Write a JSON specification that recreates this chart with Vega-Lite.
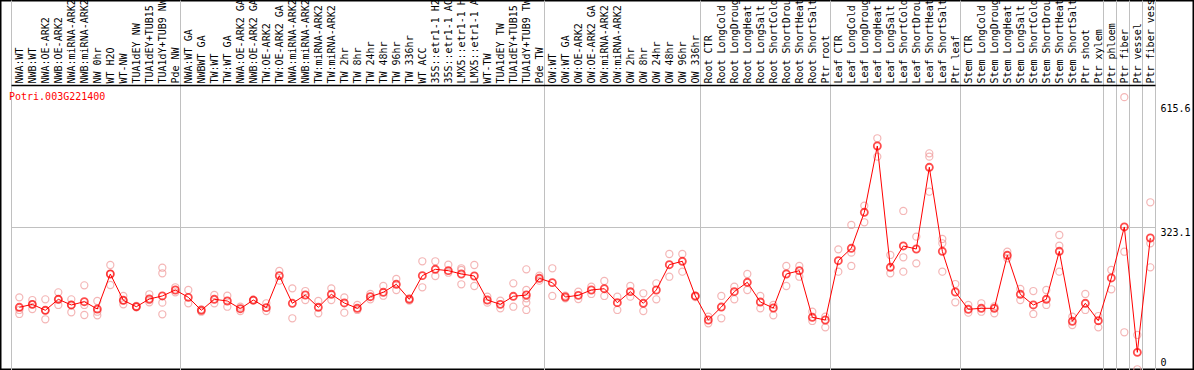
{
  "$schema": "https://vega.github.io/schema/vega-lite/v6.json",
  "width": 1194,
  "height": 370,
  "autosize": {"type": "none"},
  "padding": {"left": 0, "top": 0, "right": 0, "bottom": 0},
  "background": "white",
  "config": {
    "view": {"stroke": "black", "strokeWidth": 3},
    "font": "DejaVu Sans Mono"
  },
  "title": {
    "text": "Potri.003G221400",
    "orient": "none",
    "anchor": "start",
    "frame": "group",
    "dx": 9,
    "dy": 100,
    "baseline": "alphabetic",
    "color": "#ff0000",
    "font": "DejaVu Sans Mono",
    "fontSize": 10,
    "fontWeight": "normal"
  },
  "datasets": {
    "means": [
      {"i":0,"name":"NWA:WT","v":141.5},{"i":1,"name":"NWB:WT","v":148.2},{"i":2,"name":"NWA:OE-ARK2","v":134.7},{"i":3,"name":"NWB:OE-ARK2","v":159.5},
      {"i":4,"name":"NWA:miRNA-ARK2","v":146.7},{"i":5,"name":"NWB:miRNA-ARK2","v":154.1},{"i":6,"name":"NW 0hr","v":137.6},{"i":7,"name":"WT H2O","v":216.6},
      {"i":8,"name":"WT-NW","v":157.3},{"i":9,"name":"TUA1dEY NW","v":142.8},{"i":10,"name":"TUA1dEY+TUB15 NW","v":160.2},{"i":11,"name":"TUA1dY+TUB9 NW","v":167.0},
      {"i":12,"name":"Pde NW","v":180.5},{"i":13,"name":"NWA:WT GA","v":164.0},{"i":14,"name":"NWBWT GA","v":134.7},{"i":15,"name":"TW:WT","v":159.5},
      {"i":16,"name":"TW:WT GA","v":155.7},{"i":17,"name":"NWA:OE-ARK2 GA","v":138.3},{"i":18,"name":"NWB:OE-ARK2 GA","v":157.9},{"i":19,"name":"TW:OE-ARK2","v":140.6},
      {"i":20,"name":"TW:OE-ARK2 GA","v":212.8},{"i":21,"name":"NWA:miRNA-ARK2 GA","v":150.5},{"i":22,"name":"NWB:miRNA-ARK2 GA","v":169.2},{"i":23,"name":"TW:miRNA-ARK2","v":141.5},
      {"i":24,"name":"TW:miRNA-ARK2 GA","v":170.8},{"i":25,"name":"TW 2hr","v":151.2},{"i":26,"name":"TW 8hr","v":139.2},{"i":27,"name":"TW 24hr","v":165.4},
      {"i":28,"name":"TW 48hr","v":175.3},{"i":29,"name":"TW 96hr","v":193.4},{"i":30,"name":"TW 336hr","v":159.5},{"i":31,"name":"WT ACC","v":212.8},
      {"i":32,"name":"35S::etr1-1 H2O","v":227.2},{"i":33,"name":"35S::etr1-1 ACC","v":224.1},{"i":34,"name":"LMX5::etr1-1 H2O","v":216.6},{"i":35,"name":"LMX5::etr1-1 ACC","v":212.1},
      {"i":36,"name":"WT-TW","v":157.9},{"i":37,"name":"TUA1dEY TW","v":148.2},{"i":38,"name":"TUA1dEY+TUB15 TW","v":166.3},{"i":39,"name":"TUA1dY+TUB9 TW","v":169.2},
      {"i":40,"name":"Pde TW","v":206.9},{"i":41,"name":"OW:WT","v":197.0},{"i":42,"name":"OW:WT GA","v":164.7},{"i":43,"name":"OW:OE-ARK2","v":168.5},
      {"i":44,"name":"OW:OE-ARK2 GA","v":180.5},{"i":45,"name":"OW:miRNA-ARK2","v":183.4},{"i":46,"name":"OW:miRNA-ARK2 GA","v":151.9},{"i":47,"name":"OW 2hr","v":176.7},
      {"i":48,"name":"OW 8hr","v":150.5},{"i":49,"name":"OW 24hr","v":180.5},{"i":50,"name":"OW 48hr","v":237.6},{"i":51,"name":"OW 96hr","v":245.3},
      {"i":52,"name":"OW 336hr","v":167.0},{"i":53,"name":"Root CTR","v":112.8},{"i":54,"name":"Root LongCold","v":142.1},{"i":55,"name":"Root LongDrought","v":176.7},
      {"i":56,"name":"Root LongHeat","v":197.9},{"i":57,"name":"Root LongSalt","v":153.4},{"i":58,"name":"Root ShortCold","v":139.9},{"i":59,"name":"Root ShortDrought","v":216.6},
      {"i":60,"name":"Root ShortHeat","v":224.1},{"i":61,"name":"Root ShortSalt","v":118.9},{"i":62,"name":"Ptr root","v":112.8},{"i":63,"name":"Leaf CTR","v":246.6},
      {"i":64,"name":"Leaf LongCold","v":274.6},{"i":65,"name":"Leaf LongDrought","v":355.8},{"i":66,"name":"Leaf LongHeat","v":505.4},{"i":67,"name":"Leaf LongSalt","v":231.7},
      {"i":68,"name":"Leaf ShortCold","v":279.8},{"i":69,"name":"Leaf ShortDrought","v":273.0},{"i":70,"name":"Leaf ShortHeat","v":457.4},{"i":71,"name":"Leaf ShortSalt","v":267.8},
      {"i":72,"name":"Ptr leaf","v":176.0},{"i":73,"name":"Stem CTR","v":137.0},{"i":74,"name":"Stem LongCold","v":139.2},{"i":75,"name":"Stem LongDrought","v":139.2},
      {"i":76,"name":"Stem LongHeat","v":258.8},{"i":77,"name":"Stem LongSalt","v":170.8},{"i":78,"name":"Stem ShortCold","v":146.7},{"i":79,"name":"Stem ShortDrought","v":159.5},
      {"i":80,"name":"Stem ShortHeat","v":267.8},{"i":81,"name":"Stem ShortSalt","v":109.9},{"i":82,"name":"Ptr shoot","v":150.5},{"i":83,"name":"Ptr xylem","v":111.2},
      {"i":84,"name":"Ptr phloem","v":207.6},{"i":85,"name":"Ptr fiber","v":322.7},{"i":86,"name":"Ptr vessel","v":39.9},{"i":87,"name":"Ptr fiber vessel","v":297.8}
    ],
    "reps": [
      {"i":0,"v":164.0},{"i":0,"v":135.4},{"i":0,"v":126.4},
      {"i":1,"v":157.9},{"i":1,"v":137.6},{"i":1,"v":148.2},
      {"i":2,"v":159.5},{"i":2,"v":114.4},{"i":2,"v":134.7},
      {"i":3,"v":175.3},{"i":3,"v":146.7},{"i":3,"v":159.5},
      {"i":4,"v":159.5},{"i":4,"v":130.2},{"i":4,"v":146.7},
      {"i":5,"v":191.1},{"i":5,"v":124.1},{"i":5,"v":146.7},
      {"i":6,"v":155.7},{"i":6,"v":123.4},{"i":6,"v":131.5},
      {"i":7,"v":236.9},{"i":7,"v":191.8},{"i":7,"v":216.6},
      {"i":8,"v":167.0},{"i":8,"v":148.2},{"i":8,"v":157.3},
      {"i":9,"v":144.4},{"i":9,"v":141.5},{"i":9,"v":142.8},
      {"i":10,"v":170.8},{"i":10,"v":152.8},{"i":10,"v":157.9},
      {"i":11,"v":230.8},{"i":11,"v":218.2},{"i":11,"v":151.9},{"i":11,"v":125.7},
      {"i":12,"v":186.6},{"i":12,"v":175.3},
      {"i":13,"v":180.5},{"i":13,"v":150.5},
      {"i":14,"v":137.0},{"i":14,"v":131.5},
      {"i":15,"v":169.2},{"i":15,"v":150.5},
      {"i":16,"v":167.6},{"i":16,"v":142.8},
      {"i":17,"v":142.8},{"i":17,"v":133.1},
      {"i":18,"v":157.9},{"i":18,"v":156.4},
      {"i":19,"v":150.5},{"i":19,"v":133.1},
      {"i":20,"v":223.4},{"i":20,"v":201.5},
      {"i":21,"v":184.3},{"i":21,"v":116.7},
      {"i":22,"v":178.2},{"i":22,"v":157.9},
      {"i":23,"v":155.7},{"i":23,"v":127.9},
      {"i":24,"v":184.3},{"i":24,"v":157.9},
      {"i":25,"v":164.0},{"i":25,"v":129.3},
      {"i":26,"v":146.7},{"i":26,"v":135.4},
      {"i":27,"v":171.5},{"i":27,"v":159.5},
      {"i":28,"v":189.5},{"i":28,"v":167.6},
      {"i":29,"v":205.3},{"i":29,"v":180.5},
      {"i":30,"v":161.8},{"i":30,"v":156.4},
      {"i":31,"v":245.3},{"i":31,"v":186.6},
      {"i":32,"v":245.3},{"i":32,"v":212.1},
      {"i":33,"v":237.6},{"i":33,"v":219.5},
      {"i":34,"v":229.5},{"i":34,"v":193.4},{"i":34,"v":225.6},
      {"i":35,"v":236.9},{"i":35,"v":189.5},
      {"i":36,"v":165.4},{"i":36,"v":151.9},
      {"i":37,"v":156.4},{"i":37,"v":139.2},
      {"i":38,"v":195.6},{"i":38,"v":142.8},
      {"i":39,"v":227.2},{"i":39,"v":180.5},{"i":39,"v":161.8},{"i":39,"v":151.9},{"i":39,"v":135.4},
      {"i":40,"v":212.8},{"i":40,"v":201.5},
      {"i":41,"v":229.5},{"i":41,"v":167.0},
      {"i":42,"v":167.6},{"i":42,"v":161.8},
      {"i":43,"v":176.7},{"i":43,"v":160.2},
      {"i":44,"v":188.0},{"i":44,"v":171.5},
      {"i":45,"v":200.8},{"i":45,"v":167.0},
      {"i":46,"v":165.4},{"i":46,"v":135.4},
      {"i":47,"v":189.5},{"i":47,"v":165.4},
      {"i":48,"v":173.1},{"i":48,"v":133.1},
      {"i":49,"v":195.6},{"i":49,"v":159.5},
      {"i":50,"v":261.7},{"i":50,"v":210.5},
      {"i":51,"v":261.7},{"i":51,"v":221.8},
      {"i":52,"v":167.0},{"i":52,"v":164.7},
      {"i":53,"v":120.3},{"i":53,"v":105.4},
      {"i":54,"v":167.0},{"i":54,"v":116.7},
      {"i":55,"v":188.0},{"i":55,"v":159.5},
      {"i":56,"v":216.6},{"i":56,"v":180.5},
      {"i":57,"v":167.0},{"i":57,"v":139.2},
      {"i":58,"v":146.7},{"i":58,"v":123.4},
      {"i":59,"v":234.7},{"i":59,"v":189.5},
      {"i":60,"v":234.7},{"i":60,"v":210.5},
      {"i":61,"v":131.5},{"i":61,"v":110.6},
      {"i":62,"v":120.3},{"i":62,"v":96.3},
      {"i":63,"v":272.3},{"i":63,"v":221.8},
      {"i":64,"v":327.2},{"i":64,"v":264.7},{"i":64,"v":234.7},
      {"i":65,"v":370.7},{"i":65,"v":333.3},
      {"i":66,"v":522.8},{"i":66,"v":481.3},
      {"i":67,"v":259.5},{"i":67,"v":218.2},
      {"i":68,"v":358.8},{"i":68,"v":254.3},{"i":68,"v":221.8},
      {"i":69,"v":300.8},{"i":69,"v":240.7},
      {"i":70,"v":488.9},{"i":70,"v":481.3},{"i":70,"v":402.3},
      {"i":71,"v":295.6},{"i":71,"v":285.9},{"i":71,"v":221.8},
      {"i":72,"v":194.0},{"i":72,"v":152.8},
      {"i":73,"v":146.7},{"i":73,"v":129.3},
      {"i":74,"v":150.5},{"i":74,"v":131.5},
      {"i":75,"v":143.7},{"i":75,"v":127.9},
      {"i":76,"v":266.9},{"i":76,"v":252.0},
      {"i":77,"v":182.8},{"i":77,"v":157.9},
      {"i":78,"v":178.2},{"i":78,"v":126.4},
      {"i":79,"v":180.5},{"i":79,"v":146.7},
      {"i":80,"v":304.6},{"i":80,"v":280.5},{"i":80,"v":221.8},
      {"i":81,"v":120.3},{"i":81,"v":101.5},
      {"i":82,"v":171.5},{"i":82,"v":135.4},
      {"i":83,"v":121.8},{"i":83,"v":96.3},
      {"i":84,"v":225.6},{"i":84,"v":182.1},
      {"i":85,"v":615.6},{"i":85,"v":266.9},{"i":85,"v":85.1},
      {"i":86,"v":79.0},{"i":86,"v":1.6},
      {"i":87,"v":378.4},{"i":87,"v":285.9},{"i":87,"v":231.7}
    ]
  },
  "encoding": {
    "x": {
      "field": "name",
      "type": "nominal",
      "sort": {"field": "i", "op": "min"},
      "bandPosition": 0.64,
      "scale": {"range": [11, 1155], "paddingInner": 0, "paddingOuter": 0},
      "axis": {
        "orient": "top",
        "offset": -85,
        "title": null,
        "labelAngle": 270,
        "labelFont": "DejaVu Sans Mono",
        "labelFontSize": 10,
        "labelColor": "black",
        "labelPadding": 2,
        "labelOffset": 1.8,
        "labelOverlap": false,
        "labelLimit": 0,
        "labelBound": false,
        "labelFlush": false,
        "ticks": false,
        "domain": false,
        "grid": true,
        "tickBand": "extent",
        "gridColor": {
          "condition": {
            "test": "datum.extra || indexof(['Pde NW','Pde TW','OW 336hr','Ptr root','Ptr leaf','Ptr xylem','Ptr phloem','Ptr fiber','Ptr vessel','Ptr fiber vessel'], datum.value) >= 0",
            "value": "#c0c0c0"
          },
          "value": "rgba(0,0,0,0)"
        },
        "gridWidth": 1,
        "zindex": 0
      }
    }
  },
  "resolve": {"axis": {"y": "independent"}},
  "layer": [
    {
      "data": {"name": "reps"},
      "transform": [
        {"lookup": "i", "from": {"data": {"name": "means"}, "key": "i", "fields": ["name"]}}
      ],
      "mark": {"type": "point", "shape": "circle", "size": 50, "filled": false, "stroke": "#f09898", "strokeWidth": 1.2, "clip": false},
      "encoding": {
        "y": {
          "field": "v",
          "type": "quantitative",
          "scale": {"domain": [0, 834.8], "nice": false, "zero": true},
          "axis": {
            "orient": "left",
            "offset": 0,
            "title": null,
            "values": [323.1, 643],
            "labels": false,
            "ticks": false,
            "domain": false,
            "grid": true,
            "gridColor": {"condition": {"test": "datum.value == 643", "value": "black"}, "value": "#c0c0c0"},
            "gridWidth": {"condition": {"test": "datum.value == 643", "value": 1.5}, "value": 1},
            "zindex": 0
          }
        }
      }
    },
    {
      "data": {"name": "means"},
      "mark": {"type": "line", "color": "#ff0000", "strokeWidth": 1},
      "encoding": {
        "y": {"field": "v", "type": "quantitative", "axis": null}
      }
    },
    {
      "data": {"name": "means"},
      "mark": {"type": "point", "shape": "circle", "size": 50, "filled": false, "stroke": "#ff0000", "strokeWidth": 1.8},
      "encoding": {
        "y": {
          "field": "v",
          "type": "quantitative",
          "axis": {
            "orient": "right",
            "offset": -36,
            "title": null,
            "values": [0, 323.1, 615.6],
            "labelExpr": "datum.value == 0 ? '0' : format(datum.value, '.1f')",
            "labelFont": "DejaVu Sans Mono",
            "labelFontSize": 10,
            "labelColor": "black",
            "labelAlign": "left",
            "labelPadding": 2,
            "labelBaseline": {"condition": {"test": "datum.value == 0", "value": "bottom"}, "value": "top"},
            "labelOffset": {"condition": [{"test": "datum.value == 615.6", "value": 6}, {"test": "datum.value == 0", "value": -3}], "value": 1},
            "ticks": false,
            "domain": false,
            "grid": false
          }
        }
      }
    }
  ]
}
